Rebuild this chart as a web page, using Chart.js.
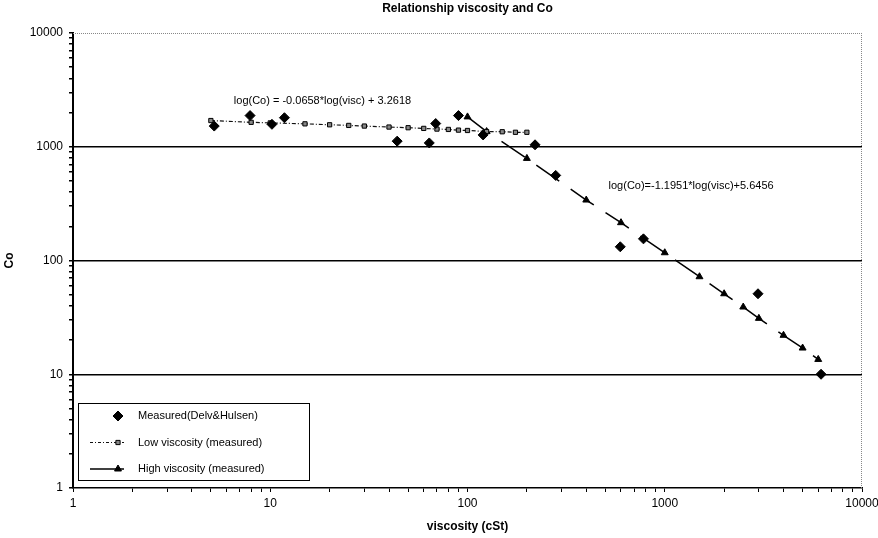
<!DOCTYPE html>
<html>
<head>
<meta charset="utf-8">
<title>Relationship viscosity and Co</title>
<script src="https://cdn.jsdelivr.net/npm/chart.js@4.4.1/dist/chart.umd.min.js"></script>
<style>
  html, body { margin: 0; padding: 0; background: #fff; }
  #chart { display: block; }
</style>
</head>
<body>
<canvas id="chart" width="878" height="538"></canvas>
<script>
// values (log-log)
const measuredVisc = [5.2, 7.9, 10.2, 11.8, 44, 64, 69, 90, 120, 220, 280, 595, 780, 2970, 6200];
const measuredCo = [1520, 1880, 1575, 1800, 1120, 1080, 1600, 1880, 1270, 1040, 560, 132, 155, 51, 10];

const lowVisc = [5, 8, 10, 15, 20, 25, 30, 40, 50, 60, 70, 80, 90, 100, 125, 150, 175, 200];
const lowCo = [1700, 1640, 1620, 1590, 1560, 1540, 1520, 1490, 1470, 1450, 1430, 1420, 1400, 1390, 1360, 1355, 1340, 1340];

const highVisc = [100, 125, 200, 400, 600, 1000, 1500, 2000, 2500, 3000, 4000, 5000, 6000];
const highCo = [1830, 1360, 790, 340, 215, 117, 72, 51, 39, 31, 22, 17, 13.5];

const xTicks = [1, 10, 100, 1000, 10000];
const yTicks = [1, 10, 100, 1000, 10000];

const labels = ["Measured(Delv&Hulsen)", "Low viscosity (measured)", "High viscosity (measured)"];
const fitTexts = ["log(Co) = -0.0658*log(visc) + 3.2618", "log(Co)=-1.1951*log(visc)+5.6456"];

const FONT = "'Liberation Sans', Arial, sans-serif";

function toPoints(xs, ys) {
    return xs.map((x, i) => ({ x: x, y: ys[i] }));
}

// decades plus 2..9 minor marks in between
function logTicks(majors) {
    const out = [];
    majors.forEach((m, i) => {
        out.push(m);
        if (i < majors.length - 1) {
            for (let k = 2; k <= 9; k++) out.push(m * k);
        }
    });
    return out;
}

function isInnerDecade(v) {
    return yTicks.includes(v) && v > yTicks[0] && v < yTicks[yTicks.length - 1];
}

// where the two fit equations sit, in data units
const fitPlace = [
    { visc: 18.4, co: 2520 },
    { visc: 1360, co: 452 }
];

const extras = {
    id: "extras",
    afterDraw(chart) {
        const ctx = chart.ctx;
        const a = chart.chartArea;
        const xs = chart.scales.x;
        const ys = chart.scales.y;
        ctx.save();

        // title centred on plot area
        ctx.fillStyle = "#000";
        ctx.font = "bold 12px " + FONT;
        ctx.textAlign = "center";
        ctx.textBaseline = "middle";
        ctx.fillText("Relationship viscosity and Co", (a.left + a.right) / 2, 9);

        // dotted grey frame top and right
        ctx.strokeStyle = "#888";
        ctx.lineWidth = 1;
        ctx.setLineDash([1, 1]);
        ctx.beginPath();
        ctx.moveTo(a.left, a.top + 0.5);
        ctx.lineTo(a.right, a.top + 0.5);
        ctx.moveTo(a.right - 0.5, a.top);
        ctx.lineTo(a.right - 0.5, a.bottom);
        ctx.stroke();
        ctx.setLineDash([]);

        // fit equations
        ctx.font = "11px " + FONT;
        ctx.fillStyle = "#000";
        fitTexts.forEach((t, i) => {
            ctx.fillText(t, xs.getPixelForValue(fitPlace[i].visc), ys.getPixelForValue(fitPlace[i].co));
        });

        // legend box, lower left inside the plot
        const bx = a.left + 5, by = a.bottom - 85, bw = 231, bh = 77;
        ctx.fillStyle = "#fff";
        ctx.fillRect(bx, by, bw, bh);
        ctx.strokeStyle = "#000";
        ctx.lineWidth = 1;
        ctx.strokeRect(bx + 0.5, by + 0.5, bw, bh);

        chart.data.datasets.forEach((ds, i) => {
            const y = by + 13 + i * 26.5;
            if (ds.showLine !== false) {
                ctx.strokeStyle = ds.borderColor;
                ctx.lineWidth = ds.borderWidth;
                ctx.setLineDash(i === 1 ? [3, 2, 1, 2] : []);
                ctx.beginPath();
                ctx.moveTo(bx + 12, y);
                ctx.lineTo(bx + 46, y);
                ctx.stroke();
                ctx.setLineDash([]);
            }
            ctx.fillStyle = ds.pointBackgroundColor;
            ctx.strokeStyle = ds.pointBorderColor;
            ctx.lineWidth = ds.pointBorderWidth || 1;
            Chart.helpers.drawPoint(ctx, {
                pointStyle: ds.pointStyle,
                radius: ds.pointRadius,
                borderWidth: ds.pointBorderWidth || 1,
                rotation: 0
            }, bx + 40, y);
            ctx.fillStyle = "#000";
            ctx.font = "11px " + FONT;
            ctx.textAlign = "left";
            ctx.fillText(ds.label, bx + 60, y);
        });
        ctx.restore();
    }
};

const chart = new Chart(document.getElementById("chart"), {
    type: "scatter",
    data: {
        datasets: [{
            label: labels[0],
            data: toPoints(measuredVisc, measuredCo),
            showLine: false,
            pointStyle: "rectRot",
            pointRadius: 5,
            pointBackgroundColor: "#000",
            pointBorderColor: "#000",
            pointBorderWidth: 1,
            borderColor: "#000"
        }, {
            label: labels[1],
            data: toPoints(lowVisc, lowCo),
            showLine: true,
            borderColor: "#111",
            borderWidth: 1.2,
            borderDash: [4, 2, 1, 2],
            pointStyle: "rect",
            pointRadius: 3,
            pointBackgroundColor: "#888",
            pointBorderColor: "#000",
            pointBorderWidth: 1
        }, {
            label: labels[2],
            data: toPoints(highVisc, highCo),
            showLine: true,
            borderColor: "#000",
            borderWidth: 1.5,
            borderDash: [28, 14],
            pointStyle: "triangle",
            pointRadius: 4,
            pointBackgroundColor: "#000",
            pointBorderColor: "#000",
            pointBorderWidth: 1
        }]
    },
    options: {
        responsive: false,
        animation: false,
        devicePixelRatio: 1,
        layout: { padding: { top: 33, right: 16, left: 0, bottom: 0 } },
        plugins: {
            legend: { display: false },
            title: { display: false },
            tooltip: { enabled: false }
        },
        scales: {
            x: {
                type: "logarithmic",
                min: 1,
                max: 10000,
                afterBuildTicks: s => { s.ticks = logTicks(xTicks).map(v => ({ value: v })); },
                afterFit: s => { s.height = 50; s.paddingRight = 0; s.paddingLeft = 0; },
                ticks: {
                    autoSkip: false,
                    maxRotation: 0,
                    color: "#000",
                    font: { family: FONT, size: 12 },
                    padding: 4,
                    callback: v => xTicks.includes(v) ? String(v) : ""
                },
                grid: {
                    drawOnChartArea: false,
                    tickColor: "#000",
                    tickLength: 4
                },
                border: { color: "#000", width: 1.5 },
                title: {
                    display: true,
                    text: "viscosity (cSt)",
                    color: "#000",
                    font: { family: FONT, size: 12, weight: "bold" },
                    padding: { top: 4 }
                }
            },
            y: {
                type: "logarithmic",
                min: 1,
                max: 10000,
                afterBuildTicks: s => { s.ticks = logTicks(yTicks).map(v => ({ value: v })); },
                afterFit: s => { s.width = 73; },
                ticks: {
                    autoSkip: false,
                    color: "#000",
                    font: { family: FONT, size: 12 },
                    padding: 6,
                    callback: v => yTicks.includes(v) ? String(v) : ""
                },
                grid: {
                    color: c => (c.tick && isInnerDecade(c.tick.value)) ? "#000" : "rgba(0,0,0,0)",
                    lineWidth: 1.5,
                    tickColor: "#000",
                    tickLength: 4
                },
                border: { color: "#000", width: 2 },
                title: {
                    display: true,
                    text: "Co",
                    color: "#000",
                    font: { family: FONT, size: 12, weight: "bold" },
                    padding: { top: 2, bottom: 0 }
                }
            }
        }
    },
    plugins: [extras]
});
</script>
</body>
</html>
